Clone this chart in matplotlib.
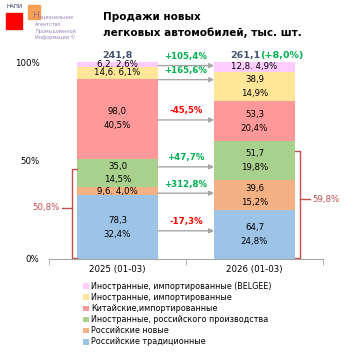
import matplotlib
matplotlib.use("Agg")
import matplotlib.pyplot as plt
from matplotlib.patches import Rectangle

plt.rcParams['font.family'] = ['DejaVu Sans']

periods = ['2025 (01-03)', '2026 (01-03)']
series = ['Российские традиционные', 'Российские новые',
          'Иностранные, российского производства', 'Китайские,импортированные',
          'Иностранные, импортированные', 'Иностранные, импортированные (BELGEE)']
vals_2025 = [78.3, 9.6, 35.0, 98.0, 14.6, 6.2]
vals_2026 = [64.7, 39.6, 51.7, 53.3, 38.9, 12.8]
pct_2025 = [32.4, 4.0, 14.5, 40.5, 6.1, 2.6]
pct_2026 = [24.8, 15.2, 19.8, 20.4, 14.9, 4.9]
changes = ['-17,3%', '+312,8%', '+47,7%', '-45,5%', '+165,6%', '+105,4%']
totals = ['241,8', '261,1']
total_change = '(+8,0%)'
russian_share = ['50,8%', '59,8%']

colors = ['#9DC3E6', '#F4B183', '#A9D18E', '#FF9999', '#FFE699', '#FFCCFF']
green = '#00B050'
red = '#FF0000'
brace_col = '#C0504D'
fs = 6.2

fig = plt.figure(figsize=(3.53, 3.53), dpi=100)
ax = fig.add_axes([49/353, 1-259/353, 274/353, 197/353])
w = 0.59

mids = []
for k, (vals, pcts) in enumerate([(vals_2025, pct_2025), (vals_2026, pct_2026)]):
    bottom = 0
    m = []
    for i in range(len(vals)):
        ax.bar(k, pcts[i], w, bottom=bottom, color=colors[i], label=series[i] if k == 0 else None)
        mid = bottom + pcts[i]/2
        m.append(mid)
        v = f'{vals[i]:.1f}'.replace('.', ',')
        p = f'{pcts[i]:.1f}'.replace('.', ',') + '%'
        if pcts[i] < 7:
            txt = v + '. ' + p
        else:
            txt = v + '\n' + p
        ax.text(k, mid, txt, ha='center', va='center', fontsize=fs, linespacing=1.7)
        bottom += pcts[i]
    mids.append(m)

# change arrows
for i in range(len(series)):
    y = (mids[0][i] + mids[1][i]) / 2
    ax.annotate('', xy=(1-w/2, y), xytext=(w/2, y),
                arrowprops=dict(arrowstyle='-|>', color='#A6A6A6', lw=1, mutation_scale=7,
                                shrinkA=0, shrinkB=0))
    c = green if changes[i].startswith('+') else red
    ax.annotate(changes[i], xy=(0.5, y), xytext=(0, 6.5), textcoords='offset points',
                ha='center', va='center', color=c, fontsize=fs, fontweight='bold')

# totals
ax.text(0, 103.5, totals[0], ha='center', va='center', fontsize=6.8,
        fontweight='bold', color='#44546A')
t = ax.text(0.82, 103.5, totals[1], ha='left', va='center', fontsize=6.8,
            fontweight='bold', color='#44546A')
ax.annotate(total_change, xycoords=t, xy=(1, 0.5), va='center', ha='left',
            fontsize=6.8, fontweight='bold', color=green)

# braces for russian share
for k, side in enumerate([-1, 1]):
    top = sum(pct_2025[:3]) if k == 0 else sum(pct_2026[:3])
    top -= 5
    xb = k + side * (w/2 + 0.037)
    xe = k + side * w/2
    xs = [xe, xb, xb, xe]
    ys = [0.5, 0.5, top, top]
    ax.plot(xs, ys, color=brace_col, lw=1, clip_on=False, solid_joinstyle='round')
    ym = top / 2 + 3
    ax.plot([xb, xb + side*0.073], [ym, ym], color=brace_col, lw=1, clip_on=False)
    ax.text(xb + side*0.09, ym, russian_share[k], ha='right' if side < 0 else 'left',
            va='center', color=brace_col, fontsize=fs)

ax.set_xlim(-0.5, 1.5)
ax.set_ylim(0, 100)
ax.set_yticks([0, 50, 100])
ax.set_yticklabels(['0%', '50%', '100%'], fontsize=fs)
ax.tick_params(axis='y', length=0, pad=7)
ax.set_xticks([0, 1])
ax.set_xticklabels(periods, fontsize=fs)
ax.set_xticks([-0.5, 0.5, 1.5], minor=True)
ax.tick_params(axis='x', which='major', length=0, pad=4)
ax.tick_params(axis='x', which='minor', length=4, color='#A6A6A6')
for s in ['top', 'right', 'left']:
    ax.spines[s].set_visible(False)
ax.spines['bottom'].set_color('#A6A6A6')

h, l = ax.get_legend_handles_labels()
fig.legend(h[::-1], l[::-1], loc='upper left', bbox_to_anchor=(79/353, 1-278/353),
           frameon=False, fontsize=5.8, handlelength=0.7, handleheight=0.7,
           handletextpad=0.3, labelspacing=0.26, borderpad=0)

# title
fig.text(103/353, 1-17/353, 'Продажи новых', fontsize=7.5, fontweight='bold', va='center')
fig.text(103/353, 1-33/353, 'легковых автомобилей, тыс. шт.', fontsize=7.5,
         fontweight='bold', va='center')

# logo
fig.patches.append(Rectangle((6/353, 1-29/353), 16/353, 16/353, transform=fig.transFigure,
                             color='#FF0000'))
fig.patches.append(Rectangle((28/353, 1-19/353), 12/353, 14/353, transform=fig.transFigure,
                             color='#F79646', alpha=0.9))
fig.text(6/353, 1-7/353, 'НАПИ', fontsize=4, color='#1F3864', va='center')
fig.text(32/353, 1-15/353, 'Н', fontsize=6.5, color='#8064A2', va='center', alpha=0.8)
fig.text(40/353, 1-17/353, 'ациональное', fontsize=3.5, color='#8064A2', va='center', alpha=0.8)
for j, s in enumerate(['Агентство', 'Промышленной', 'Информации ©']):
    fig.text(35/353, 1-(25+j*6)/353, s, fontsize=3.5, color='#8064A2', va='center', alpha=0.8)

fig.savefig('out.png', dpi=100)
